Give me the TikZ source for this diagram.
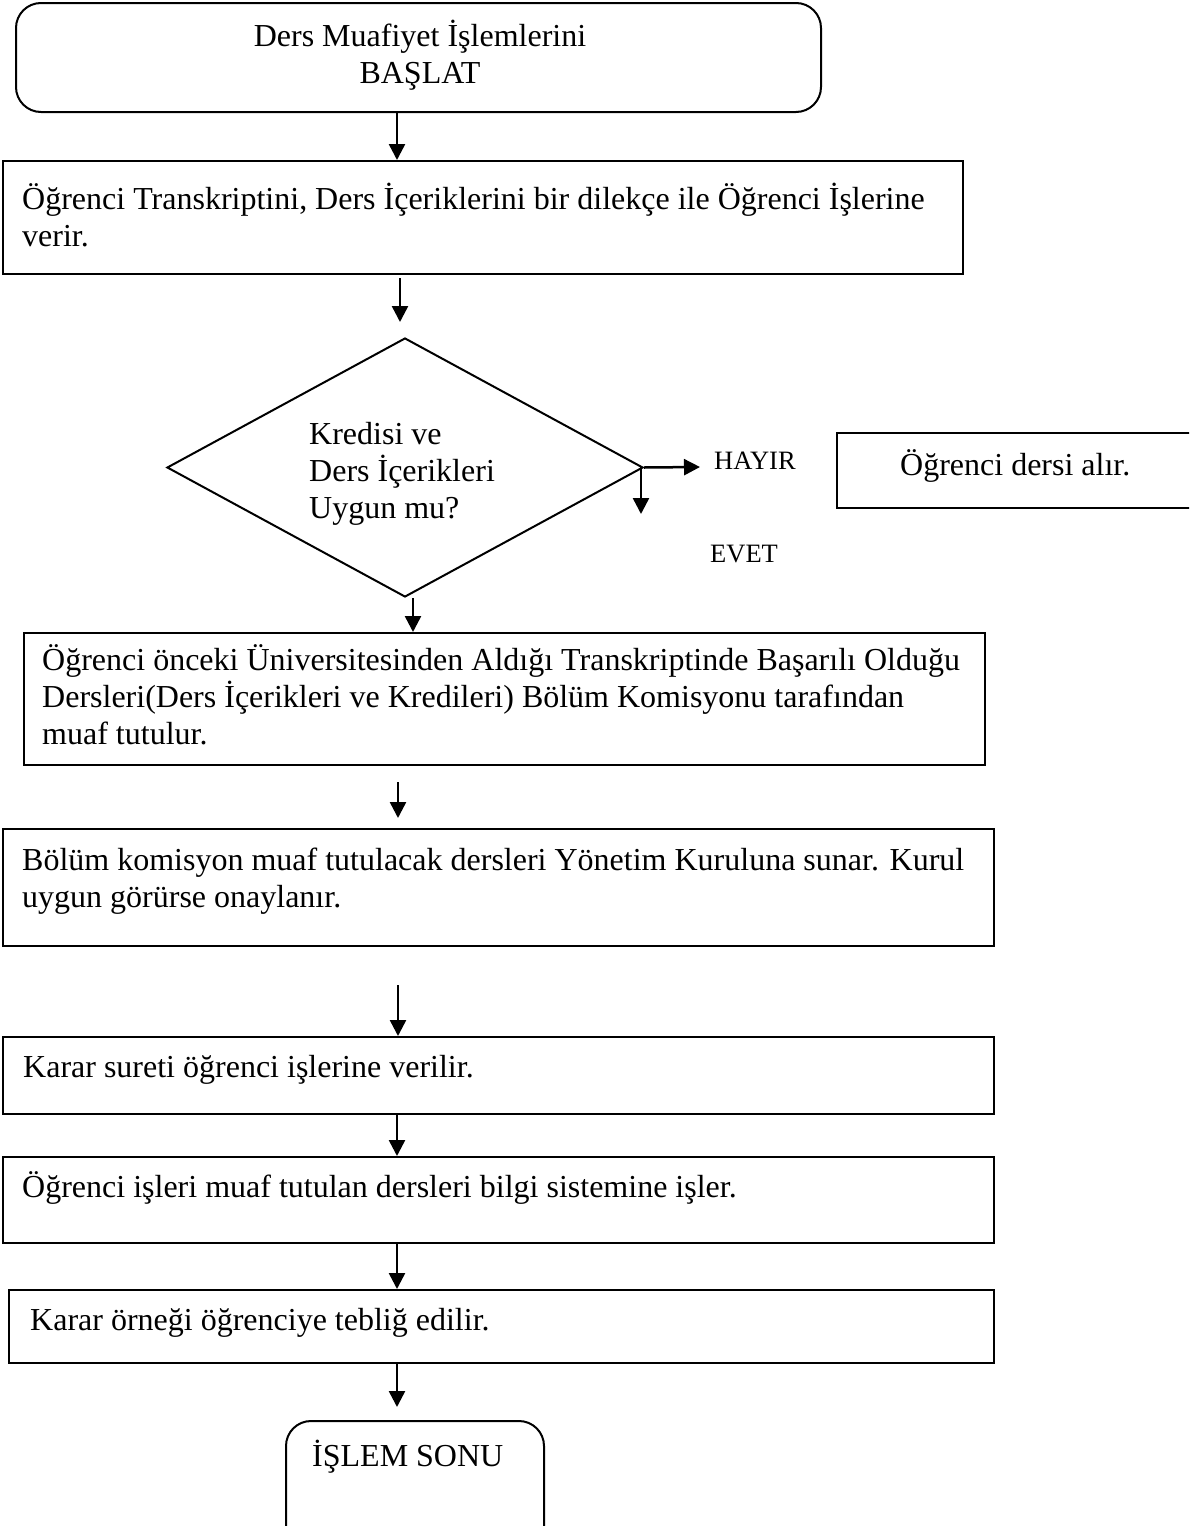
\documentclass[tikz,border=0pt]{standalone}
\usepackage{fontspec}
\setmainfont{Liberation Serif}
\usetikzlibrary{shapes.geometric,arrows.meta}

% first-line strut so that a node's top sits a fixed distance above its first baseline
\newcommand{\firstline}{\rule{0pt}{30pt}}

\begin{document}
\begin{tikzpicture}[x=1pt,y=-1pt,
  box/.style={draw, line width=2pt, rectangle, inner sep=0pt, anchor=north west},
  rbox/.style={box, rounded corners=25pt},
  txt/.style={inner sep=0pt, align=left, anchor=north west,
              font=\fontsize{32}{37}\selectfont},
  ctxt/.style={txt, align=center, anchor=north},
  lbl/.style={inner sep=0pt, anchor=base west, font=\fontsize{26.5}{30}\selectfont},
  line/.style={inner sep=0pt, anchor=base west, font=\fontsize{32}{37}\selectfont},
  arr/.style={line width=2.5pt, -{Triangle[length=16pt,width=16pt]}}]

\useasboundingbox (0,0) rectangle (1189,1526);
\clip (0,0) rectangle (1189,1526);

% frames of the steps
\node[rbox, minimum width=805pt, minimum height=109pt] (b1) at (15,2) {};
\node[box, minimum width=960pt, minimum height=113pt] (b2) at (2,160) {};
\node[draw, line width=2pt, diamond, inner sep=0pt,
      minimum width=476pt, minimum height=259pt] (d) at (405,467.5) {};
\node[box, minimum width=400pt, minimum height=75pt] (bno) at (836,432) {};
\node[box, minimum width=961pt, minimum height=132pt] (b3) at (23,632) {};
\node[box, minimum width=991pt, minimum height=117pt] (b4) at (2,828) {};
\node[box, minimum width=991pt, minimum height=77pt] (b5) at (2,1036) {};
\node[box, minimum width=991pt, minimum height=86pt] (b6) at (2,1156) {};
\node[box, minimum width=985pt, minimum height=73pt] (b7) at (8,1289) {};
\node[rbox, minimum width=258pt, minimum height=140pt] (bend) at (285,1420) {};

% texts
\node[ctxt] (t1) at (420,16) {\firstline Ders Muafiyet İşlemlerini\\BAŞLAT};
\node[txt] (t2) at (22,179) {\firstline Öğrenci Transkriptini, Ders İçeriklerini bir dilekçe ile Öğrenci İşlerine\\verir.};
\node[txt] (tq) at (309,414) {\firstline Kredisi ve\\Ders İçerikleri\\Uygun mu?};
\node[lbl] (hayir) at (714,469) {HAYIR};
\node[lbl] (evet) at (710,562) {EVET};
\node[line] (tno) at (900,475) {Öğrenci dersi alır.};
\node[txt] (t3) at (42,640) {\firstline Öğrenci önceki Üniversitesinden Aldığı Transkriptinde Başarılı Olduğu\\Dersleri(Ders İçerikleri ve Kredileri) Bölüm Komisyonu tarafından\\muaf tutulur.};
\node[txt] (t4) at (22,840) {\firstline Bölüm komisyon muaf tutulacak dersleri Yönetim Kuruluna sunar. Kurul\\uygun görürse onaylanır.};
\node[line] (t5) at (23,1077) {Karar sureti öğrenci işlerine verilir.};
\node[line] (t6) at (22,1197) {Öğrenci işleri muaf tutulan dersleri bilgi sistemine işler.};
\node[line] (t7) at (30,1330) {Karar örneği öğrenciye tebliğ edilir.};
\node[line] (tend) at (312,1466) {İŞLEM SONU};

% arrow columns and free arrow ends
\coordinate (ax) at (397,0);
\coordinate (a2s) at (400,278);
\coordinate (a2e) at (400,322);
\coordinate (hy) at (700,467);
\coordinate (evs) at (641,467);
\coordinate (eve) at (641,514);
\coordinate (dx) at (413,0);
\coordinate (a4s) at (398,782);
\coordinate (a4e) at (398,818);
\coordinate (a5s) at (398,985);
\coordinate (a8e) at (397,1407);

% connectors
\draw[arr] (b1.south -| ax) -- (b2.north -| ax);
\draw[arr] (a2s) -- (a2e);
\draw[arr] (d.east) -- (hy);
\draw[arr] (evs) -- (eve);
\draw[arr] (d.south -| dx) -- (b3.north -| dx);
\draw[arr] (a4s) -- (a4e);
\draw[arr] (a5s) -- (b5.north -| a5s);
\draw[arr] (b5.south -| ax) -- (b6.north -| ax);
\draw[arr] (b6.south -| ax) -- (b7.north -| ax);
\draw[arr] (b7.south -| ax) -- (a8e);
\end{tikzpicture}
\end{document}
